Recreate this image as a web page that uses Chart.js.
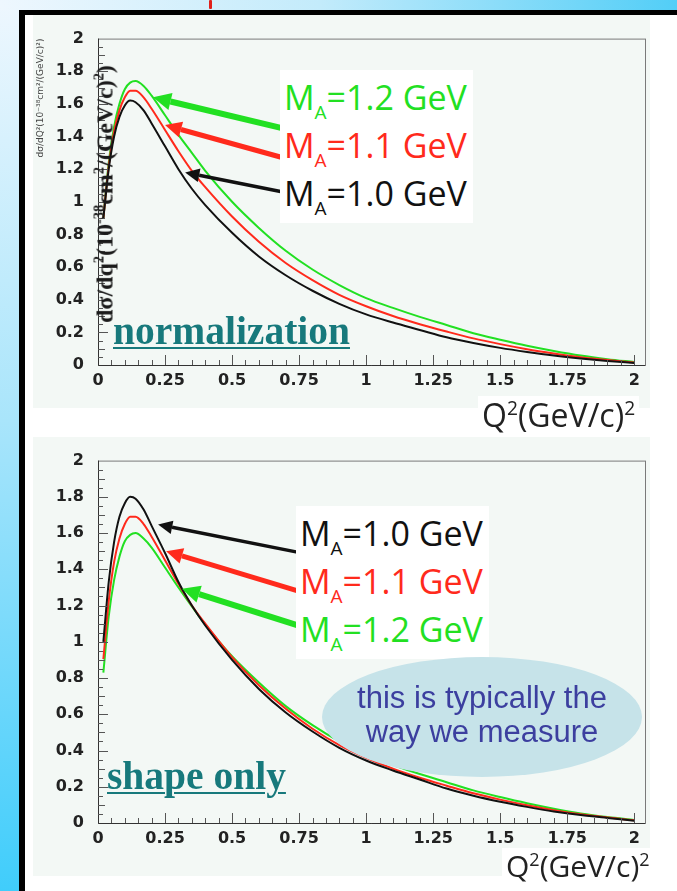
<!DOCTYPE html>
<html>
<head>
<meta charset="utf-8">
<script src="https://cdn.jsdelivr.net/npm/chart.js@4.4.1/dist/chart.umd.min.js"></script>
<style>
  html, body { margin: 0; padding: 0; }
  body { width: 677px; height: 891px; position: relative; overflow: hidden;
         background: linear-gradient(to bottom, #eef7fe 0px, #a9e5fb 420px, #40cdfb 891px); }
  .topstrip { position: absolute; left: 0; top: 0; right: 0; height: 10px;
              background: linear-gradient(to right, #eef7fe 0px, #c3ebfb 320px, #52cef7 677px); }
  .sheet { position: absolute; left: 19px; top: 10px; right: 0; bottom: 0; background: #fff;
           border-left: 6px solid #000; border-top: 5px solid #000; }
  .panel { position: absolute; left: 33px; width: 617px; background: #f3f8f5; }
  .panel canvas { position: absolute; left: 0; top: 0; }
  .ma-box { position: absolute; background: #fff; padding: 3px 6px 6px 4px;
            font-family: "Open Sans", sans-serif; font-size: 34px; line-height: 48px; white-space: nowrap; }
  .ma-box sub { font-size: 19px; vertical-align: -9px; line-height: 0; }
  .tag { position: absolute; font-family: "Liberation Serif", serif; font-weight: bold; font-size: 39.5px;
         line-height: 1; color: #17797c; white-space: nowrap;
         text-decoration: underline; text-decoration-thickness: 2px; text-underline-offset: 3px; }
  .qtitle { position: absolute; background: #fff; padding: 0 4px; font-family: "Open Sans", sans-serif;
            color: #222; white-space: nowrap; }
  .qtitle sup { font-size: 0.6em; vertical-align: 0.6em; line-height: 0; }
  .ytitle { position: absolute; left: 105px; top: 194px; transform: translate(-50%, -50%) rotate(-90deg);
            font-family: "Liberation Serif", serif; font-weight: bold; font-size: 24px; color: #1a1a1a;
            white-space: nowrap; }
  .ytitle sup { font-size: 0.6em; vertical-align: 0.6em; line-height: 0; }
  .note { position: absolute; left: 322px; top: 657px; width: 320px; height: 120px; border-radius: 50%;
          background: #c6e3e9; color: #3c3f9f; font-family: "Liberation Sans", Arial, sans-serif;
          font-size: 31px; line-height: 34px; text-align: center; box-sizing: border-box; padding-bottom: 4px;
          display: flex; align-items: center; justify-content: center; }
</style>
</head>
<body>
<div class="topstrip"></div>
<div style="position:absolute;left:209px;top:0;width:3px;height:9px;background:#e0201a;border-radius:1px"></div>
<div class="sheet"></div>

<div class="panel" style="top:15px;height:393px"><canvas id="normChart" width="617" height="393"></canvas></div>
<div class="panel" style="top:437px;height:439px"><canvas id="shapeChart" width="617" height="439"></canvas></div>

<div class="ytitle">dσ/dq<sup>2</sup>(10<sup>-38</sup>cm<sup>2</sup>/(GeV/c)<sup>2</sup>)</div>

<div class="ma-box" style="left:280px;top:70px">
  <div style="color:#22e022">M<sub>A</sub>=1.2 GeV</div>
  <div style="color:#ff2a1c">M<sub>A</sub>=1.1 GeV</div>
  <div style="color:#111">M<sub>A</sub>=1.0 GeV</div>
</div>
<div class="ma-box" style="left:296px;top:506px">
  <div style="color:#111">M<sub>A</sub>=1.0 GeV</div>
  <div style="color:#ff2a1c">M<sub>A</sub>=1.1 GeV</div>
  <div style="color:#22e022">M<sub>A</sub>=1.2 GeV</div>
</div>

<div class="tag" style="left:113px;top:312px">normalization</div>
<div class="tag" style="left:107px;top:757px">shape only</div>

<div class="note"><div>this is typically the<br>way we measure</div></div>

<div class="qtitle" style="left:478px;top:396px;font-size:32px;line-height:38px">Q<sup>2</sup>(GeV/c)<sup>2</sup></div>
<div class="qtitle" style="left:502px;top:848px;font-size:30px;line-height:36px">Q<sup>2</sup>(GeV/c)<sup>2</sup></div>

<script>
// Q^2 sample points, (GeV/c)^2
const q2 = [0.02, 0.04, 0.06, 0.08, 0.10, 0.12, 0.14, 0.17, 0.20, 0.25, 0.30, 0.35, 0.40, 0.50, 0.60,
            0.70, 0.80, 0.90, 1.00, 1.10, 1.20, 1.30, 1.40, 1.50, 1.60, 1.70, 1.80, 1.90, 2.00];

// dsigma/dQ^2, absolute normalization
const normMa10 = [0.90, 1.20, 1.40, 1.52, 1.59, 1.62, 1.61, 1.56, 1.48, 1.34, 1.20, 1.08, 0.98, 0.81, 0.665,
                  0.55, 0.455, 0.375, 0.31, 0.26, 0.215, 0.17, 0.135, 0.105, 0.08, 0.058, 0.04, 0.025, 0.012];
const normMa11 = [0.90, 1.22, 1.43, 1.56, 1.64, 1.68, 1.68, 1.64, 1.57, 1.44, 1.31, 1.19, 1.09, 0.91, 0.755,
                  0.625, 0.52, 0.43, 0.36, 0.30, 0.25, 0.205, 0.163, 0.128, 0.097, 0.071, 0.048, 0.03, 0.015];
const normMa12 = [0.90, 1.24, 1.46, 1.60, 1.69, 1.73, 1.74, 1.71, 1.65, 1.53, 1.41, 1.30, 1.19, 1.00, 0.84,
                  0.70, 0.585, 0.49, 0.41, 0.35, 0.295, 0.245, 0.195, 0.155, 0.118, 0.086, 0.058, 0.036, 0.018];

// same curves, area-normalized (shape only)
const shapeMa10 = [1.00, 1.33, 1.55, 1.69, 1.765, 1.80, 1.79, 1.73, 1.64, 1.49, 1.33, 1.20, 1.09, 0.90, 0.74,
                   0.61, 0.505, 0.415, 0.345, 0.29, 0.24, 0.19, 0.15, 0.117, 0.089, 0.064, 0.044, 0.028, 0.013];
const shapeMa11 = [0.905, 1.225, 1.44, 1.57, 1.65, 1.69, 1.69, 1.65, 1.58, 1.45, 1.32, 1.20, 1.10, 0.915, 0.76,
                   0.63, 0.52, 0.43, 0.36, 0.30, 0.25, 0.206, 0.164, 0.129, 0.098, 0.071, 0.048, 0.03, 0.015];
const shapeMa12 = [0.83, 1.14, 1.34, 1.47, 1.555, 1.59, 1.60, 1.57, 1.52, 1.41, 1.30, 1.195, 1.095, 0.92, 0.775,
                   0.645, 0.54, 0.45, 0.375, 0.32, 0.27, 0.225, 0.18, 0.143, 0.109, 0.079, 0.053, 0.033, 0.017];

const xTicks = [0, 0.25, 0.5, 0.75, 1, 1.25, 1.5, 1.75, 2];
const yTicks = [0, 0.2, 0.4, 0.6, 0.8, 1, 1.2, 1.4, 1.6, 1.8, 2];

const BLACK = '#111111', RED = '#ff2a1c', GREEN = '#22e022';

// ROOT-style frame with inward tick marks
const rootFrame = {
  id: 'rootFrame',
  afterDraw(chart) {
    const { ctx, chartArea: a, scales: { x, y } } = chart;
    ctx.save();
    ctx.lineWidth = 1;
    ctx.strokeStyle = '#7a7a7a';
    ctx.strokeRect(a.left + 0.5, a.top + 0.5, a.right - a.left, a.bottom - a.top);
    ctx.strokeStyle = '#333';
    ctx.beginPath();
    ctx.moveTo(a.left + 0.5, a.top);
    ctx.lineTo(a.left + 0.5, a.bottom + 0.5);
    ctx.lineTo(a.right, a.bottom + 0.5);
    ctx.stroke();
    ctx.strokeStyle = '#555';
    ctx.beginPath();
    for (let i = 1; i < 40; i++) {
      const py = Math.round(y.getPixelForValue(i * 0.05)) + 0.5;
      const len = i % 4 === 0 ? 10 : (i % 2 === 0 ? 7 : 5);
      ctx.moveTo(a.left, py);
      ctx.lineTo(a.left + len, py);
    }
    for (let i = 1; i <= 40; i++) {
      const px = Math.round(x.getPixelForValue(i * 0.05)) + 0.5;
      const len = i % 5 === 0 ? 10 : 5;
      ctx.moveTo(px, a.bottom);
      ctx.lineTo(px, a.bottom - len);
    }
    ctx.stroke();
    ctx.restore();
  }
};

// arrows from the M_A labels to the curves, given in data coordinates
function arrowPlugin(list) {
  return {
    id: 'maArrows',
    afterDatasetsDraw(chart) {
      const { ctx, scales: { x, y } } = chart;
      list.forEach(a => {
        const x0 = x.getPixelForValue(a.from[0]), y0 = y.getPixelForValue(a.from[1]);
        const x1 = x.getPixelForValue(a.to[0]), y1 = y.getPixelForValue(a.to[1]);
        const ang = Math.atan2(y1 - y0, x1 - x0);
        const head = a.width * 1.5 + 9;
        const hw = a.width * 0.8 + 4;
        const bx = x1 - Math.cos(ang) * head, by = y1 - Math.sin(ang) * head;
        ctx.save();
        ctx.strokeStyle = a.color;
        ctx.fillStyle = a.color;
        ctx.lineWidth = a.width;
        ctx.beginPath();
        ctx.moveTo(x0, y0);
        ctx.lineTo(bx, by);
        ctx.stroke();
        ctx.beginPath();
        ctx.moveTo(x1, y1);
        ctx.lineTo(bx + Math.sin(ang) * hw, by - Math.cos(ang) * hw);
        ctx.lineTo(bx - Math.sin(ang) * hw, by + Math.cos(ang) * hw);
        ctx.closePath();
        ctx.fill();
        ctx.restore();
      });
    }
  };
}

const tickFont = { family: 'DejaVu Sans', weight: 'bold', size: 16 };

function drawPanel(id, series, arrows, box) {
  return new Chart(document.getElementById(id), {
    type: 'line',
    data: {
      datasets: series.map(s => ({
        label: s.label,
        data: q2.map((q, i) => ({ x: q, y: s.values[i] })),
        borderColor: s.color,
        borderWidth: 2,
        pointRadius: 0,
        fill: false,
        cubicInterpolationMode: 'monotone'
      }))
    },
    options: {
      responsive: false,
      animation: false,
      devicePixelRatio: 1,
      layout: { autoPadding: false, padding: { left: 0, right: 5, top: box.top, bottom: 0 } },
      plugins: { legend: { display: false }, tooltip: { enabled: false } },
      scales: {
        x: {
          type: 'linear', min: 0, max: 2.04,
          afterBuildTicks: s => { s.ticks = xTicks.map(v => ({ value: v })); },
          afterFit: s => { s.height = box.xh; },
          grid: { display: false, drawTicks: false },
          border: { display: false },
          ticks: { font: tickFont, color: '#222', padding: 6, maxRotation: 0, autoSkip: false,
                   callback: v => String(v) }
        },
        y: {
          type: 'linear', min: 0, max: 2,
          afterBuildTicks: s => { s.ticks = yTicks.map(v => ({ value: v })); },
          afterFit: s => { s.width = 65; },
          grid: { display: false, drawTicks: false },
          border: { display: false },
          title: box.ytitle ? {
            display: true, text: box.ytitle, align: 'end', color: '#444',
            font: { family: 'DejaVu Sans', size: 9 }, padding: { top: 2, bottom: 0 }
          } : { display: false },
          ticks: { font: tickFont, color: '#222', padding: 14, autoSkip: false,
                   callback: v => String(v) }
        }
      }
    },
    plugins: [rootFrame, arrowPlugin(arrows)]
  });
}

drawPanel('normChart', [
  { label: 'MA=1.0 GeV', values: normMa10, color: BLACK },
  { label: 'MA=1.1 GeV', values: normMa11, color: RED },
  { label: 'MA=1.2 GeV', values: normMa12, color: GREEN }
], [
  { from: [0.69, 1.45], to: [0.205, 1.64], color: GREEN, width: 6 },
  { from: [0.69, 1.27], to: [0.25, 1.47], color: RED, width: 5 },
  { from: [0.69, 1.06], to: [0.325, 1.18], color: BLACK, width: 3.5 }
], { top: 6, xh: 43, ytitle: 'dσ/dQ²(10⁻³⁸cm²/(GeV/c)²)' });

drawPanel('shapeChart', [
  { label: 'MA=1.0 GeV', values: shapeMa10, color: BLACK },
  { label: 'MA=1.1 GeV', values: shapeMa11, color: RED },
  { label: 'MA=1.2 GeV', values: shapeMa12, color: GREEN }
], [
  { from: [0.743, 1.495], to: [0.224, 1.647], color: BLACK, width: 3.5 },
  { from: [0.754, 1.277], to: [0.254, 1.50], color: RED, width: 5 },
  { from: [0.754, 1.087], to: [0.313, 1.293], color: GREEN, width: 6 }
], { top: 18, xh: 53 });
</script>
</body>
</html>
